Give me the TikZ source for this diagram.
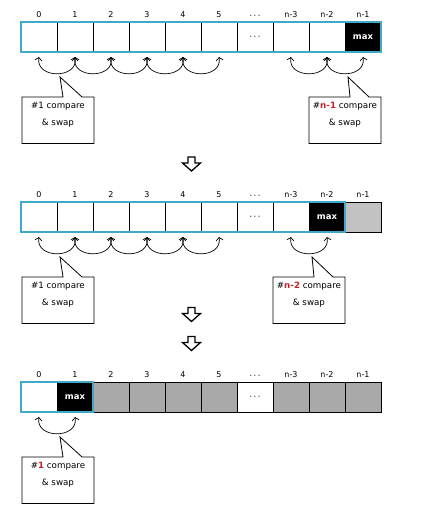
\documentclass[tikz,border=0pt]{standalone}
\usepackage{fontspec}
\setmainfont{DejaVu Sans}
\usetikzlibrary{arrows.meta, calc}
\definecolor{frameBlue}{HTML}{40A8C8}
\definecolor{stepRed}{HTML}{C8202A}
\definecolor{doneGray}{HTML}{A9A9A9}
\definecolor{faintGray}{HTML}{C2C2C2}
\newcommand{\midots}{{\fontsize{7}{8}\selectfont\boldmath$\cdots$}}
\tikzset{
    cell/.style={rectangle, draw=black, line width=0.7pt, fill=white, minimum width=36pt, minimum height=30pt, inner sep=0pt, outer sep=0pt, anchor=north west, node contents={}},
    maxcell/.style={cell, fill=black, text=white, font=\fontsize{8.5}{10}\selectfont\bfseries, node contents={max}},
    dotcell/.style={cell, node contents={\midots}},
    donecell/.style={cell, fill=doneGray},
    faintcell/.style={cell, fill=faintGray},
    idx/.style={font=\fontsize{8}{9}\selectfont, inner sep=0pt, label distance=4pt},
    frame/.style={draw=frameBlue, line width=1.6pt},
    swaparc/.style={{Straight Barb[length=3pt,width=7pt]}-{Straight Barb[length=3pt,width=7pt]}, line width=0.7pt, out=-100, in=-80, looseness=1.6},
    callbox/.style={minimum width=71.5pt, minimum height=46pt, inner sep=0pt, anchor=north west},
    calltext/.style={font=\fontsize{8.7}{17}\selectfont, align=center, anchor=north, yshift=-2pt},
    callline/.style={line width=0.8pt},
    stepdown/.pic={\draw[line width=1.3pt, line join=miter] (-3.5,7) -- (3.5,7) -- (3.5,1) -- (9,1) -- (0,-7) -- (-9,1) -- (-3.5,1) -- cycle;},
}
\begin{document}
\begin{tikzpicture}[x=1pt, y=1pt]
    \useasboundingbox (0,0) rectangle (423,-514);

    % Pass 1
    \foreach \lab/\kind [count=\i from 0] in {0/cell,1/cell,2/cell,3/cell,4/cell,5/cell,{\midots}/dotcell,n-3/cell,n-2/cell,n-1/maxcell}
        \node (r1c\i) at (21+36*\i, -22) [\kind, label={[idx]above:\lab}];
    \draw[frame] (r1c0.north west) rectangle (r1c9.south east);
    \foreach \a/\b in {0/1,1/2,2/3,3/4,4/5,7/8,8/9}
        \draw[swaparc] ([yshift=-5pt]r1c\a.south) to ([yshift=-5pt]r1c\b.south);

    \coordinate (tip1a) at ($(r1c0.south east)+(3,-25)$);
    \coordinate (tip1b) at ($(r1c8.south east)+(3,-25)$);
    \node[callbox, label={[calltext]north:{\#1 compare\\\& swap}}] (call1a) at (22,-97) {};
    \node[callbox, label={[calltext]north:{\#\textcolor{stepRed}{\textbf{n-1}} compare\\\& swap}}] (call1b) at (309,-97) {};

    \pic (down1) at (191.5,-164) {stepdown};

    % Pass 2
    \foreach \lab/\kind [count=\i from 0] in {0/cell,1/cell,2/cell,3/cell,4/cell,5/cell,{\midots}/dotcell,n-3/cell,n-2/maxcell,n-1/faintcell}
        \node (r2c\i) at (21+36*\i, -202) [\kind, label={[idx]above:\lab}];
    \draw[frame] (r2c0.north west) rectangle (r2c8.south east);
    \foreach \a/\b in {0/1,1/2,2/3,3/4,4/5,7/8}
        \draw[swaparc] ([yshift=-5pt]r2c\a.south) to ([yshift=-5pt]r2c\b.south);

    \coordinate (tip2a) at ($(r2c0.south east)+(3,-25)$);
    \coordinate (tip2b) at ($(r2c7.south east)+(3,-25)$);
    \node[callbox, label={[calltext]north:{\#1 compare\\\& swap}}] (call2a) at (22,-277) {};
    \node[callbox, label={[calltext]north:{\#\textcolor{stepRed}{\textbf{n-2}} compare\\\& swap}}] (call2b) at (273,-277) {};

    \pic (down2) at (191.5,-314.5) {stepdown};
    \pic (down3) at (191.5,-343.5) {stepdown};

    % Last pass
    \foreach \lab/\kind [count=\i from 0] in {0/cell,1/maxcell,2/donecell,3/donecell,4/donecell,5/donecell,{\midots}/dotcell,n-3/donecell,n-2/donecell,n-1/donecell}
        \node (r3c\i) at (21+36*\i, -382) [\kind, label={[idx]above:\lab}];
    \draw[frame] (r3c0.north west) rectangle (r3c1.south east);
    \draw[swaparc] ([yshift=-5pt]r3c0.south) to ([yshift=-5pt]r3c1.south);

    \coordinate (tip3a) at ($(r3c0.south east)+(3,-25)$);
    \node[callbox, label={[calltext]north:{\#\textcolor{stepRed}{\textbf{1}} compare\\\& swap}}] (call3a) at (22,-457) {};

    % Callout outlines
    \foreach \cb/\tp in {call1a/tip1a, call1b/tip1b, call2a/tip2a, call2b/tip2b, call3a/tip3a}
        \draw[callline] (\cb.north west) -- ([xshift=41pt]\cb.north west) -- (\tp) -- ([xshift=60pt]\cb.north west) -- (\cb.north east) -- (\cb.south east) -- (\cb.south west) -- cycle;
\end{tikzpicture}
\end{document}
